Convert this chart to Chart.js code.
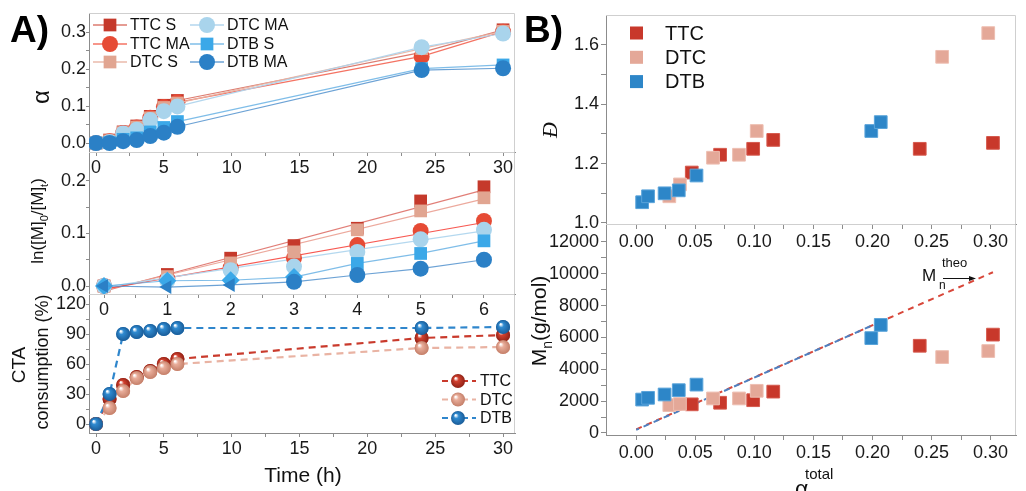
<!DOCTYPE html>
<html>
<head>
<meta charset="utf-8">
<script src="https://cdn.jsdelivr.net/npm/chart.js@4"></script>
<style>
body { margin: 0; background: #fff; width: 1026px; height: 491px; position: relative; overflow: hidden; }
canvas { position: absolute; left: 0; top: 0; }
</style>
</head>
<body>
<canvas id="alpha" width="1026" height="491"></canvas>
<canvas id="lnm" width="1026" height="491"></canvas>
<canvas id="cta" width="1026" height="491"></canvas>
<canvas id="disp" width="1026" height="491"></canvas>
<canvas id="mn" width="1026" height="491"></canvas>
<script>
// ---- data ----
var hours = [0, 1, 2, 3, 4, 5, 6, 24, 30];
var alphaTTCS = [0, 0.008, 0.03, 0.046, 0.072, 0.102, 0.115, 0.245, 0.306];
var alphaTTCMA = [0, 0.005, 0.027, 0.042, 0.068, 0.097, 0.11, 0.234, 0.301];
var alphaDTCS = [0, 0.006, 0.028, 0.043, 0.068, 0.096, 0.108, 0.255, 0.302];
var alphaDTCMA = [0, 0.003, 0.026, 0.036, 0.062, 0.086, 0.099, 0.259, 0.296];
var alphaDTBS = [0, 0.001, 0.01, 0.014, 0.03, 0.042, 0.058, 0.201, 0.211];
var alphaDTBMA = [0, 0, 0.005, 0.008, 0.019, 0.028, 0.044, 0.197, 0.202];

var lnHours = [0, 1, 2, 3, 4, 5, 6];
var lnTTCS = [0, 0.022, 0.053, 0.077, 0.11, 0.162, 0.189];
var lnTTCMA = [0, 0.014, 0.035, 0.053, 0.078, 0.105, 0.124];
var lnDTCS = [0, 0.018, 0.044, 0.065, 0.107, 0.143, 0.168];
var lnDTCMA = [0, 0.01, 0.03, 0.037, 0.065, 0.089, 0.107];
var lnDTBS = [0, 0.01, 0.011, 0.017, 0.043, 0.062, 0.086];
var lnDTBMA = [0, -0.002, 0.002, 0.008, 0.021, 0.033, 0.05];
var fitHours = [0, 6];
var fitTTCS = [-0.01, 0.183];
var fitDTCS = [-0.008, 0.166];
var fitTTCMA = [-0.006, 0.121];
var fitDTCMA = [-0.002, 0.105];

var ctaTTC = [0, 25, 39, 47, 53, 60, 65, 86, 89];
var ctaDTC = [0, 16, 33, 46, 52, 56, 60, 76, 77];
var ctaDTB = [0, 30, 90, 92, 93, 95, 96, 96, 97];

var convTTC = [0.047, 0.071, 0.099, 0.116, 0.240, 0.302];
var dispTTC = [1.17, 1.23, 1.25, 1.28, 1.25, 1.27];
var mnTTC = [1800, 1900, 2060, 2600, 5480, 6180];
var convDTC = [0.028, 0.037, 0.065, 0.087, 0.102, 0.259, 0.298];
var dispDTC = [1.09, 1.13, 1.22, 1.23, 1.31, 1.56, 1.64];
var mnDTC = [1750, 1820, 2170, 2170, 2650, 4770, 5150];
var convDTB = [0.005, 0.010, 0.024, 0.036, 0.051, 0.199, 0.207];
var dispDTB = [1.07, 1.09, 1.10, 1.11, 1.16, 1.31, 1.34];
var mnDTB = [2100, 2210, 2420, 2690, 3040, 5960, 6790];
var theoConv = [0.0, 0.302];
var theoMn = [230, 10100];
var theoConvDTB = [0.0, 0.206];
var theoMnDTB = [200, 6960];

// ---- helpers ----
var FONT = '"Liberation Sans", Arial, sans-serif';
Chart.defaults.font.family = FONT;
Chart.defaults.color = '#1a1a1a';

function pts(xs, ys) { return xs.map(function (x, i) { return { x: x, y: ys[i] }; }); }

function axis(o, horizontal) {
  return {
    type: 'linear', min: o.min, max: o.max,
    afterBuildTicks: function (s) {
      var t = [];
      for (var v = o.from; v <= o.to + 1e-9; v += o.minor) t.push({ value: Math.round(v * 1e6) / 1e6 });
      s.ticks = t;
    },
    afterFit: function (s) { if (horizontal) s.height = o.size; else s.width = o.size; },
    border: { color: '#8c8c8c', width: 1 },
    grid: { drawOnChartArea: false, tickLength: o.tick, color: '#8c8c8c' },
    ticks: {
      autoSkip: false, maxRotation: 0, padding: o.pad, color: '#1a1a1a', font: { size: 18 },
      callback: function (v) {
        var k = v / o.major;
        return Math.abs(k - Math.round(k)) < 1e-6 ? v.toFixed(o.dec) : '';
      }
    }
  };
}

var frame = {
  id: 'frame',
  beforeDatasetsDraw: function (c) {
    var a = c.chartArea, x = c.ctx;
    x.save(); x.strokeStyle = '#cfcfcf'; x.lineWidth = 1;
    x.beginPath(); x.moveTo(a.left, a.top + 0.5); x.lineTo(a.right - 0.5, a.top + 0.5); x.lineTo(a.right - 0.5, a.bottom);
    x.stroke(); x.restore();
  }
};

function makeChart(id, box, xo, yo, datasets, extra, beforeExtra) {
  return new Chart(document.getElementById(id), {
    type: 'scatter',
    data: { datasets: datasets },
    options: {
      responsive: false, animation: false, devicePixelRatio: 1,
      layout: { padding: { left: box.l - yo.size, top: box.t, right: 1026 - box.r, bottom: 491 - box.b - xo.size } },
      plugins: { legend: { display: false }, tooltip: { enabled: false } },
      scales: { x: axis(xo, true), y: axis(yo, false) }
    },
    plugins: [frame, { id: id + 'Extra', afterDraw: extra, afterDatasetsDraw: beforeExtra || function () {} }]
  });
}

function sphereFill(ctx, px, py, r, base, dark) {
  var g = ctx.createRadialGradient(px - r * 0.35, py - r * 0.4, r * 0.08, px, py, r);
  g.addColorStop(0, '#ffffff');
  g.addColorStop(0.3, base);
  g.addColorStop(1, dark);
  return g;
}
function drawSphere(ctx, x, y, r, base, dark) {
  ctx.fillStyle = sphereFill(ctx, x, y, r, base, dark);
  ctx.beginPath(); ctx.arc(x, y, r, 0, Math.PI * 2); ctx.fill();
}

function rich(ctx, parts, x, y, size, rot) {
  ctx.save(); ctx.translate(x, y); ctx.rotate(rot || 0);
  ctx.fillStyle = '#111'; ctx.textBaseline = 'alphabetic'; ctx.textAlign = 'left';
  var f = function (p) { return (p[3] || '') + Math.round(size * (p[2] || 1)) + 'px ' + (p[4] || FONT); };
  var w = 0;
  parts.forEach(function (p) { ctx.font = f(p); w += ctx.measureText(p[0]).width; });
  var cx = -w / 2;
  parts.forEach(function (p) {
    ctx.font = f(p);
    ctx.fillText(p[0], cx, size * 0.36 + (p[1] || 0) * size);
    cx += ctx.measureText(p[0]).width;
  });
  ctx.restore();
}

function marker(ctx, style, x, y, r, color) {
  ctx.fillStyle = color; ctx.beginPath();
  if (style === 'rect') { var s = r * Math.SQRT1_2; ctx.rect(x - s, y - s, 2 * s, 2 * s); }
  else ctx.arc(x, y, r, 0, Math.PI * 2);
  ctx.fill();
}

// ---- colours ----
var S = {
  TTCS: { c: '#c5392b', l: 'rgba(214,100,86,0.85)', p: 'rect', name: 'TTC S' },
  TTCMA: { c: '#e64b35', l: 'rgba(242,90,72,0.85)', p: 'circle', name: 'TTC MA' },
  DTCS: { c: '#e1a591', l: 'rgba(232,178,162,0.9)', p: 'rect', name: 'DTC S' },
  DTCMA: { c: '#a9d4ec', l: 'rgba(175,212,236,0.95)', p: 'circle', name: 'DTC MA' },
  DTBS: { c: '#3ba8e8', l: 'rgba(105,178,228,0.85)', p: 'rect', name: 'DTB S' },
  DTBMA: { c: '#2b80c6', l: 'rgba(82,146,206,0.85)', p: 'circle', name: 'DTB MA' }
};

function series(xs, ys, s, order, showLine, styles, rots) {
  return {
    data: pts(xs, ys), showLine: showLine, order: order,
    borderColor: s.l, borderWidth: 1.2,
    pointStyle: styles || s.p, pointRotation: rots || 0,
    pointRadius: s.p === 'rect' ? 9 : 8,
    pointBackgroundColor: s.c, pointBorderColor: s.c, pointBorderWidth: 0
  };
}
function fitLine(xs, ys, color, order) {
  return { data: pts(xs, ys), showLine: true, pointRadius: 0, borderColor: color, borderWidth: 1.2, order: order };
}

// ---- A) alpha vs time ----
var xTime = { min: -0.516, max: 30.88, from: 0, to: 30, minor: 2.5, major: 5, dec: 0, size: 30, tick: 4, pad: 1 };
makeChart('alpha', { l: 89, t: 13, r: 515, b: 152 }, xTime,
  { min: -0.0243, max: 0.3514, from: 0, to: 0.3, minor: 0.05, major: 0.1, dec: 1, size: 60, tick: 3, pad: 0 },
  [
    series(hours, alphaTTCS, S.TTCS, 6, true),
    series(hours, alphaTTCMA, S.TTCMA, 5, true),
    series(hours, alphaDTCS, S.DTCS, 4, true),
    series(hours, alphaDTCMA, S.DTCMA, 3, true),
    series(hours, alphaDTBS, S.DTBS, 2, true),
    series(hours, alphaDTBMA, S.DTBMA, 1, true)
  ],
  function (c) {
    var ctx = c.ctx;
    ctx.save();
    ctx.fillStyle = '#000'; ctx.font = 'bold 37px ' + FONT; ctx.textBaseline = 'alphabetic';
    ctx.fillText('A)', 10, 42);
    rich(ctx, [['\u03b1']], 40, 97, 24, -Math.PI / 2);
    var cols = [[S.TTCS, S.TTCMA, S.DTCS], [S.DTCMA, S.DTBS, S.DTBMA]];
    var colX = [93, 190], rowY = [25, 44, 62];
    cols.forEach(function (col, i) {
      col.forEach(function (s, j) {
        var x0 = colX[i], y = rowY[j];
        ctx.strokeStyle = s.l; ctx.lineWidth = 1.5;
        ctx.beginPath(); ctx.moveTo(x0, y); ctx.lineTo(x0 + 34, y); ctx.stroke();
        marker(ctx, s.p, x0 + 17, y, s.p === 'rect' ? 9 : 8, s.c);
        ctx.fillStyle = '#111'; ctx.font = '16px ' + FONT; ctx.textBaseline = 'middle';
        ctx.fillText(s.name, x0 + 37, y + 1);
      });
    });
    ctx.restore();
  });

// ---- ln([M]0/[M]t) vs time ----
makeChart('lnm', { l: 89, t: 152, r: 515, b: 294 },
  { min: -0.237, max: 6.49, from: 0, to: 6, minor: 0.5, major: 1, dec: 0, size: 30, tick: 4, pad: 1 },
  { min: -0.0152, max: 0.2552, from: 0, to: 0.2, minor: 0.05, major: 0.1, dec: 1, size: 60, tick: 3, pad: 0 },
  [
    fitLine(fitHours, fitTTCS, 'rgba(222,112,104,0.9)', 20),
    fitLine(fitHours, fitDTCS, 'rgba(234,160,146,0.9)', 19),
    fitLine(fitHours, fitTTCMA, 'rgba(246,70,62,0.9)', 18),
    fitLine(fitHours, fitDTCMA, 'rgba(176,214,238,0.95)', 17),
    series(lnHours, lnTTCS, S.TTCS, 6, false),
    series(lnHours, lnTTCMA, S.TTCMA, 5, false),
    series(lnHours, lnDTCS, S.DTCS, 4, false),
    series(lnHours, lnDTCMA, S.DTCMA, 3, false),
    series(lnHours, lnDTBS, S.DTBS, 2, true, ['rectRot', 'rectRot', 'rectRot', 'rectRot', 'rect', 'rect', 'rect']),
    series(lnHours, lnDTBMA, S.DTBMA, 1, true, ['triangle', 'triangle', 'triangle', 'circle', 'circle', 'circle', 'circle'], [-90, -90, -90, 0, 0, 0, 0])
  ],
  function (c) {
    rich(c.ctx, [['ln([M]'], ['0', 0.3, 0.65], ['/[M]'], ['t', 0.3, 0.65], [')']], 37, 221, 17, -Math.PI / 2);
  });

// ---- CTA consumption vs time ----
var ctaStyle = [
  { line: '#c93a2c', base: '#d2412f', dark: '#8f2216', name: 'TTC' },
  { line: '#e9b3a3', base: '#e9ad9a', dark: '#c47f69', name: 'DTC' },
  { line: '#2f86cc', base: '#2f8ad0', dark: '#1a5c98', name: 'DTB' }
];
function ctaSeries(ys, s, order) {
  return {
    data: pts(hours, ys), showLine: true, order: order,
    borderColor: s.line, borderWidth: 2.2, borderDash: [7, 5],
    pointRadius: 7, pointBackgroundColor: s.base, pointBorderWidth: 0
  };
}
makeChart('cta', { l: 89, t: 294, r: 515, b: 433 }, xTime,
  { min: -9, max: 130, from: 0, to: 120, minor: 15, major: 30, dec: 0, size: 60, tick: 3, pad: 0 },
  [ctaSeries(ctaTTC, ctaStyle[0], 3), ctaSeries(ctaDTC, ctaStyle[1], 2), ctaSeries(ctaDTB, ctaStyle[2], 1)],
  function (c) {
    var ctx = c.ctx;
    ctx.save();
    rich(ctx, [['CTA']], 18, 365, 19, -Math.PI / 2);
    rich(ctx, [['consumption (%)']], 42, 362, 18, -Math.PI / 2);
    rich(ctx, [['Time (h)']], 303, 474, 21, 0);
    ctaStyle.forEach(function (s, j) {
      var y = 381 + j * 18.5;
      ctx.strokeStyle = s.line; ctx.lineWidth = 2.2; ctx.setLineDash([6, 4]);
      ctx.beginPath(); ctx.moveTo(442, y); ctx.lineTo(476, y); ctx.stroke(); ctx.setLineDash([]);
      drawSphere(ctx, 458, y, 7, s.base, s.dark);
      ctx.fillStyle = '#111'; ctx.font = '16px ' + FONT; ctx.textBaseline = 'middle';
      ctx.fillText(s.name, 480, y + 1);
    });
    ctx.restore();
  },
  function (c) {
    // shade every point as a small sphere, back to front
    var ctx = c.ctx;
    ctx.save();
    [0, 1, 2].forEach(function (i) {
      c.getDatasetMeta(i).data.forEach(function (p) {
        drawSphere(ctx, p.x, p.y, 7, ctaStyle[i].base, ctaStyle[i].dark);
      });
    });
    ctx.restore();
  });

// ---- B) dispersity and Mn vs conversion ----
var B = {
  TTC: { c: '#c8382b', b: '#d65a4e', name: 'TTC' },
  DTC: { c: '#e4a898', b: '#eebfb2', name: 'DTC' },
  DTB: { c: '#2d86c8', b: '#5aa4da', name: 'DTB' }
};
function sq(xs, ys, s, order) {
  return {
    data: pts(xs, ys), showLine: false, order: order, pointStyle: 'rect', pointRadius: 9,
    pointBackgroundColor: s.c, pointBorderColor: s.b, pointBorderWidth: 1
  };
}
var xConv = { min: -0.0256, max: 0.3215, from: 0, to: 0.3, minor: 0.025, major: 0.05, dec: 2, size: 30, tick: 5, pad: 2 };
makeChart('disp', { l: 606, t: 15, r: 1026, b: 224 }, xConv,
  { min: 0.9966, max: 1.701, from: 1.0, to: 1.6, minor: 0.1, major: 0.2, dec: 1, size: 70, tick: 5, pad: 2 },
  [sq(convTTC, dispTTC, B.TTC, 3), sq(convDTC, dispDTC, B.DTC, 2), sq(convDTB, dispDTB, B.DTB, 1)],
  function (c) {
    var ctx = c.ctx;
    ctx.save();
    ctx.fillStyle = '#000'; ctx.font = 'bold 37px ' + FONT; ctx.textBaseline = 'alphabetic';
    ctx.fillText('B)', 524, 42);
    rich(ctx, [['\u0110', 0, 1, 'italic ', '"Liberation Serif", serif']], 549, 130, 22, -Math.PI / 2);
    [B.TTC, B.DTC, B.DTB].forEach(function (s, j) {
      var y = 33 + j * 24.3;
      ctx.fillStyle = s.c; ctx.fillRect(630, y - 6.5, 13, 13);
      ctx.fillStyle = '#111'; ctx.font = '20px ' + FONT; ctx.textBaseline = 'middle';
      ctx.fillText(s.name, 665, y + 1);
    });
    ctx.restore();
  });

makeChart('mn', { l: 606, t: 224, r: 1026, b: 435 }, xConv,
  { min: -126, max: 13130, from: 0, to: 12000, minor: 1000, major: 2000, dec: 0, size: 70, tick: 5, pad: 2 },
  [
    { data: pts(theoConv, theoMn), showLine: true, pointRadius: 0, borderColor: '#d8473a', borderWidth: 2, borderDash: [6, 5], order: 10 },
    { data: pts(theoConvDTB, theoMnDTB), showLine: true, pointRadius: 0, borderColor: '#4f80c0', borderWidth: 2, borderDash: [6, 5], borderDashOffset: 3, order: 9 },
    sq(convTTC, mnTTC, B.TTC, 3), sq(convDTC, mnDTC, B.DTC, 2), sq(convDTB, mnDTB, B.DTB, 1)
  ],
  function (c) {
    var ctx = c.ctx;
    ctx.save();
    rich(ctx, [['M'], ['n', 0.3, 0.65], ['(g/mol)']], 538, 321, 21, -Math.PI / 2);
    ctx.fillStyle = '#111'; ctx.textBaseline = 'alphabetic';
    ctx.font = '17px ' + FONT; ctx.fillText('M', 922, 281);
    ctx.font = '12px ' + FONT; ctx.fillText('n', 939, 289);
    ctx.font = '13px ' + FONT; ctx.fillText('theo', 942, 267);
    ctx.strokeStyle = '#111'; ctx.lineWidth = 1;
    ctx.beginPath(); ctx.moveTo(943, 278.5); ctx.lineTo(971, 278.5); ctx.stroke();
    ctx.beginPath(); ctx.moveTo(976, 278.5); ctx.lineTo(969, 276); ctx.lineTo(969, 281); ctx.closePath(); ctx.fill();
    ctx.font = '23px ' + FONT; ctx.fillText('\u03b1', 795, 497);
    ctx.font = '15px ' + FONT; ctx.fillText('total', 805, 479);
    ctx.restore();
  });
</script>
</body>
</html>
